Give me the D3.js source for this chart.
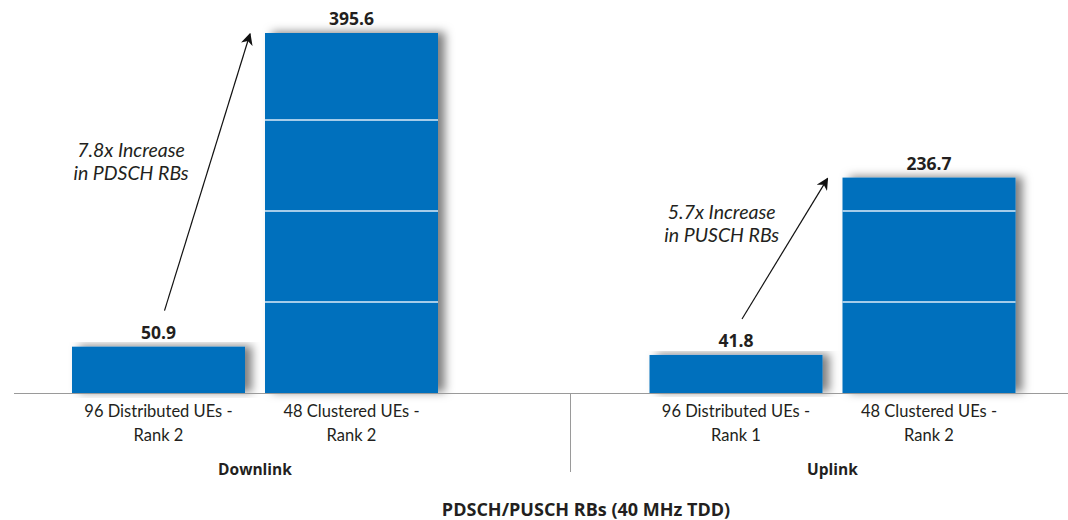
<!DOCTYPE html>
<html>
<head>
<meta charset="utf-8">
<script src="https://cdn.jsdelivr.net/npm/d3@7.9.0/dist/d3.min.js"></script>
<style>
  body { margin: 0; background: #fff; }
  svg text { font-family: "Lato", "Open Sans", sans-serif; fill: #231f20; }
  svg text.bold { font-family: "Open Sans", "Lato", sans-serif; font-weight: 700; }
</style>
</head>
<body>
<svg id="chart" width="1068" height="520"></svg>
<script>
// data
const groups = ["Downlink", "Uplink"];
const categories = [
  { group: "Downlink", label: ["96 Distributed UEs -", "Rank 2"], value: 50.9 },
  { group: "Downlink", label: ["48 Clustered UEs -", "Rank 2"], value: 395.6 },
  { group: "Uplink",   label: ["96 Distributed UEs -", "Rank 1"], value: 41.8 },
  { group: "Uplink",   label: ["48 Clustered UEs -", "Rank 2"], value: 236.7 }
];
const gridTicks = [100, 200, 300, 400];
const annotations = [
  { group: "Downlink", lines: ["7.8x Increase", "in PDSCH RBs"] },
  { group: "Uplink",   lines: ["5.7x Increase", "in PUSCH RBs"] }
];
const title = "PDSCH/PUSCH RBs (40 MHz TDD)";

// where along each arrow the note sits (0 = start, 1 = tip)
const notePos = { Downlink: 0.556, Uplink: 0.71 };

const svg = d3.select("#chart");
const baseY = 393;
const blue = "#0070bd";

// scales
const groupX = d3.scaleBand().domain(groups).range([-33.75, 1121.25]);
const gw = groupX.bandwidth();
const innerX = d3.scaleBand().domain([0, 1])
  .range([gw / 2 - 183, gw / 2 + 183])
  .paddingInner(20 / 193);
const y = d3.scaleLinear().domain([0, 400]).range([baseY, 29]);

const barX = (d, i) => groupX(d.group) + innerX(i % 2);
const bw = innerX.bandwidth();

// shadow filter
const defs = svg.append("defs");
const f = defs.append("filter").attr("id", "shadow")
  .attr("x", "-10%").attr("y", "-10%").attr("width", "130%").attr("height", "120%");
f.append("feDropShadow").attr("dx", 7).attr("dy", -1)
  .attr("stdDeviation", 5).attr("flood-color", "#000").attr("flood-opacity", 0.5);

defs.append("marker").attr("id", "arrow")
  .attr("viewBox", "0 0 10 10").attr("refX", 9).attr("refY", 5)
  .attr("markerWidth", 12).attr("markerHeight", 12)
  .attr("markerUnits", "userSpaceOnUse")
  .attr("orient", "auto")
  .append("path").attr("d", "M0,0 L10,5 L0,10 L3,5 z").attr("fill", "#111");

// bars
const barG = svg.append("g").selectAll("g")
  .data(categories)
  .join("g");

barG.append("rect")
  .attr("x", barX)
  .attr("y", d => y(d.value))
  .attr("width", bw)
  .attr("height", d => baseY - y(d.value))
  .attr("fill", blue)
  .attr("filter", "url(#shadow)");

// light gridlines, only where they cross a bar
barG.each(function(d, i) {
  d3.select(this).selectAll("line")
    .data(gridTicks.filter(t => t < d.value))
    .join("line")
    .attr("x1", barX(d, i)).attr("x2", barX(d, i) + bw)
    .attr("y1", t => y(t)).attr("y2", t => y(t))
    .attr("stroke", "#dcebf8").attr("stroke-width", 1.3);
});

// baseline and divider
svg.append("line")
  .attr("x1", 14).attr("x2", 1068).attr("y1", baseY + 0.5).attr("y2", baseY + 0.5)
  .attr("stroke", "#9a9a9a").attr("stroke-width", 1.2);
svg.append("line")
  .attr("x1", 570.5).attr("x2", 570.5).attr("y1", baseY).attr("y2", 472)
  .attr("stroke", "#9a9a9a").attr("stroke-width", 1);

// value labels
svg.append("g").selectAll("text")
  .data(categories)
  .join("text")
  .attr("class", "bold")
  .attr("x", (d, i) => barX(d, i) + bw / 2)
  .attr("y", d => y(d.value) - 8)
  .attr("text-anchor", "middle")
  .attr("font-size", 17.5)
  .text(d => d.value.toFixed(1));

// category labels
const catG = svg.append("g").selectAll("text")
  .data(categories)
  .join("text")
  .attr("text-anchor", "middle")
  .attr("font-size", 16.5);
catG.selectAll("tspan")
  .data((d, i) => d.label.map(l => ({ l, x: barX(d, i) + bw / 2 })))
  .join("tspan")
  .attr("x", d => d.x)
  .attr("y", (d, j) => 417 + j * 24)
  .text(d => d.l);

// group labels
svg.append("g").selectAll("text")
  .data(groups)
  .join("text")
  .attr("class", "bold")
  .attr("x", d => groupX(d) + gw / 2)
  .attr("y", 475)
  .attr("text-anchor", "middle")
  .attr("font-size", 15.5)
  .text(d => d);

// title
svg.append("text")
  .attr("class", "bold")
  .attr("x", 586).attr("y", 516)
  .attr("text-anchor", "middle")
  .attr("font-size", 18)
  .text(title);

// arrows + annotation text
annotations.forEach(a => {
  const pair = categories.filter(c => c.group === a.group);
  const x0 = groupX(a.group) + innerX(0) + bw / 2 + 6;
  const y0 = y(pair[0].value) - 36;
  const x1 = groupX(a.group) + innerX(1) - 15;
  const y1 = y(pair[1].value) + 1;
  svg.append("line")
    .attr("x1", x0).attr("y1", y0).attr("x2", x1).attr("y2", y1)
    .attr("stroke", "#111").attr("stroke-width", 1.2)
    .attr("marker-end", "url(#arrow)");
  const t = notePos[a.group];
  const tx = x0 + (x1 - x0) * t - 81;
  const ty = y0 + (y1 - y0) * t;
  const txt = svg.append("text")
    .attr("text-anchor", "middle")
    .attr("font-size", 19.5).attr("font-style", "italic");
  a.lines.forEach((l, j) => {
    txt.append("tspan").attr("x", tx).attr("y", ty + j * 23).text(l);
  });
});
</script>
</body>
</html>
